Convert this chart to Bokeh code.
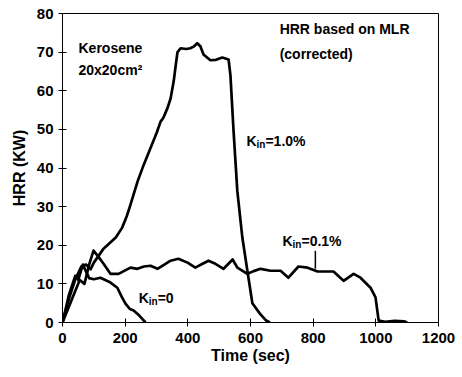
from bokeh.plotting import figure
from bokeh.models import Label, FixedTicker
from bokeh.embed import file_html
from bokeh.resources import INLINE

# Kin = 1.0 %
t_k10 = [0, 20, 40, 60, 75, 90, 100, 130, 150, 170, 190, 205, 215, 240, 260, 280, 300, 313, 322, 335, 345, 355, 362, 367,
         377, 395, 408, 420, 430, 440, 450, 472, 490, 510, 530, 536, 546, 558, 574, 590, 606, 630, 650, 662]
v_k10 = [0, 6, 11, 14.5, 15, 13.8, 15.5, 19, 20.5, 22, 24.5, 27.5, 30, 36.6, 41, 45, 49, 52, 53, 55.5, 58, 62.5, 67, 70,
         71, 70.8, 71, 71.5, 72.3, 71.5, 69.4, 67.9, 68, 68.6, 68.1, 64, 49.5, 34, 22, 13.4, 5, 2.3, 0.5, 0]

# Kin = 0.1 %
t_k01 = [0, 30, 55, 70, 85, 99, 115, 131, 153, 179, 200, 217, 239, 260, 281, 303, 325, 345, 370,
         399, 424, 447, 466, 488, 514, 543, 558, 590, 610, 632, 664, 696, 721, 753, 782, 814,
         840, 865, 897, 929, 951, 983, 999, 1009, 1030, 1060, 1090, 1100]
v_k01 = [0, 6, 11, 10, 15, 18.6, 17, 15.2, 12.6, 12.6, 13.5, 14.2, 13.9, 14.5, 14.7, 13.9, 15, 16, 16.5,
         15.5, 14.2, 15.2, 16, 15.2, 13.9, 16.3, 14.2, 12.6, 13.3, 13.9, 13.4, 13.4, 11.6, 14.5, 14.2, 13.2,
         13.2, 13.2, 10.8, 12.6, 11.6, 9, 6.5, 0.5, 0.2, 0.4, 0.3, 0]

# Kin = 0
t_k0 = [0, 20, 41, 50, 65, 85, 100, 121, 150, 175, 190, 201, 215, 227, 245, 265]
v_k0 = [0, 7, 12.1, 11, 15, 11.5, 11.2, 11.6, 10.5, 9, 6.5, 4.9, 3.5, 3.1, 1.8, 0]

x_ticks = [0, 200, 400, 600, 800, 1000, 1200]
y_ticks = [0, 10, 20, 30, 40, 50, 60, 70, 80]

FONT = "Liberation Sans"

p = figure(width=462, height=377, x_range=(0, 1200), y_range=(0, 80),
           output_backend="svg", toolbar_location=None,
           min_border_left=62, min_border_right=24, min_border_top=13, min_border_bottom=55)
p.xgrid.visible = False
p.ygrid.visible = False
p.outline_line_color = "black"
p.outline_line_width = 1
p.background_fill_color = "white"
p.border_fill_color = "white"

for ax in (p.xaxis[0], p.yaxis[0]):
    ax.axis_line_color = "black"
    ax.axis_line_width = 1
    ax.major_tick_in = 4
    ax.major_tick_out = 4
    ax.major_tick_line_color = "black"
    ax.minor_tick_line_color = None
    ax.major_label_text_font = FONT
    ax.major_label_text_font_style = "bold"
    ax.major_label_text_font_size = "15px"
    ax.major_label_text_color = "black"
    ax.axis_label_text_font = FONT
    ax.axis_label_text_font_style = "bold"
    ax.axis_label_text_font_size = "16px"
    ax.axis_label_text_color = "black"

p.xaxis.ticker = FixedTicker(ticks=x_ticks)
p.yaxis.ticker = FixedTicker(ticks=y_ticks)
p.xaxis.axis_label = "Time (sec)"
p.yaxis.axis_label = "HRR (KW)"
p.xaxis.major_label_standoff = 6
p.xaxis.axis_label_standoff = 1
p.yaxis.major_label_standoff = 5
p.yaxis.axis_label_standoff = 6

lw = 2.7
p.line(t_k10, v_k10, line_color="black", line_width=lw, line_join="round")
p.line(t_k01, v_k01, line_color="black", line_width=lw, line_join="round")
p.line(t_k0, v_k0, line_color="black", line_width=lw, line_join="round")

# pointer for Kin=0.1%
p.segment(x0=[807], y0=[18.6], x1=[807], y1=[13.9], line_color="black", line_width=1.5)


def lbl(x, y, text, size="14px", xo=0, yo=0):
    p.add_layout(Label(x=x, y=y, text=text, x_offset=xo, y_offset=yo,
                       text_font=FONT, text_font_style="bold", text_font_size=size,
                       text_color="black", text_baseline="alphabetic", text_align="left"))


def kin(x, y, rest):
    lbl(x, y, "K")
    lbl(x, y, "in", size="10px", xo=10, yo=-4)
    lbl(x, y, rest, xo=19)


lbl(51, 71, "Kerosene")
lbl(51, 65.3, "20x20cm²")
lbl(693, 75.9, "HRR based on MLR")
lbl(693, 69.6, "(corrected)")
kin(587, 47, "=1.0%")
kin(702, 21.2, "=0.1%")
kin(243, 6.45, "=0")

open("out.html", "w").write(file_html(p, INLINE))
